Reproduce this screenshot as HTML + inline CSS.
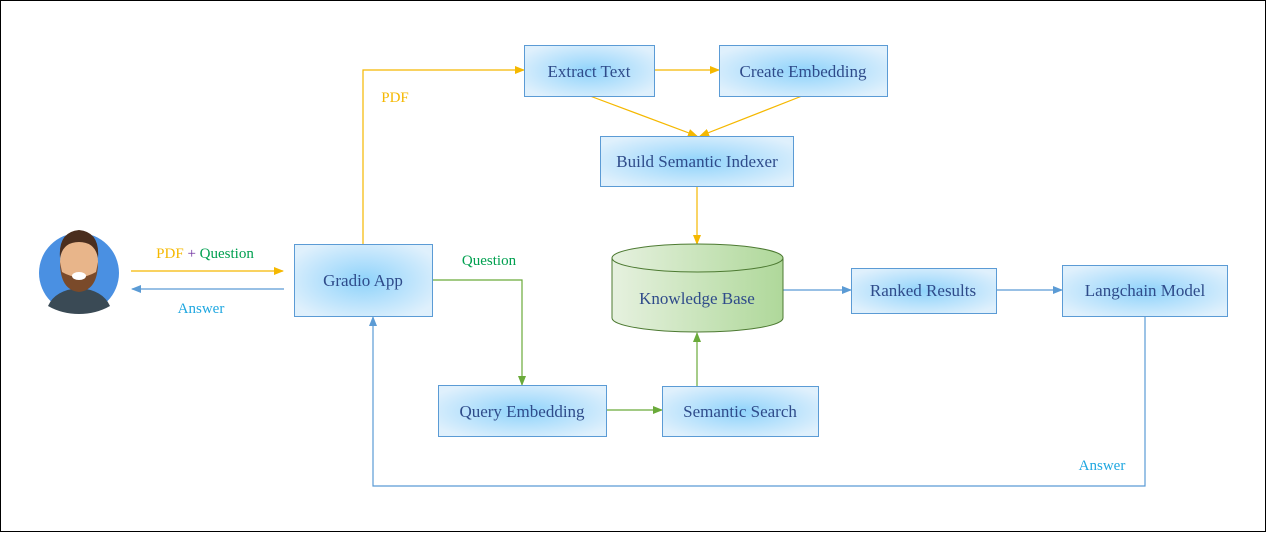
<!DOCTYPE html>
<html><head><style>
body{margin:0;width:1266px;height:532px;background:#fff;overflow:hidden}
</style></head><body>
<svg width="1266" height="532" xmlns="http://www.w3.org/2000/svg" font-family="'Liberation Serif', serif" style="font-family:'Liberation Serif',serif">
<defs>
<radialGradient id="bg" cx="50%" cy="50%" r="60%">
<stop offset="0" stop-color="#8fd3fb"/><stop offset="1" stop-color="#dff0fc"/></radialGradient>
<linearGradient id="cg" x1="0" x2="1"><stop offset="0" stop-color="#e6f1df"/><stop offset="1" stop-color="#afd89a"/></linearGradient>
<marker id="ay" markerWidth="10" markerHeight="8" refX="9" refY="4" orient="auto" markerUnits="userSpaceOnUse"><path d="M0,0L10,4L0,8z" fill="#f5b800"/></marker>
<marker id="ag" markerWidth="10" markerHeight="8" refX="9" refY="4" orient="auto" markerUnits="userSpaceOnUse"><path d="M0,0L10,4L0,8z" fill="#6aaa3a"/></marker>
<marker id="ab" markerWidth="10" markerHeight="8" refX="9" refY="4" orient="auto" markerUnits="userSpaceOnUse"><path d="M0,0L10,4L0,8z" fill="#5b9bd5"/></marker>
</defs>
<rect x="0.5" y="0.5" width="1265" height="531" fill="#fff" stroke="#000"/>
<!-- avatar -->
<circle cx="79" cy="273" r="40" fill="#4a90e2"/>
<path d="M48,306 Q55,290 79,288 Q103,290 110,306 Q96,314 79,314 Q62,314 48,306z" fill="#3a4a55"/>
<ellipse cx="79" cy="262" rx="19" ry="24" fill="#e8b58a"/>
<path d="M60,262 Q60,290 79,292 Q98,290 98,262 L96,272 Q79,282 62,272z" fill="#7a4a2a"/>
<path d="M60,258 Q58,232 79,230 Q100,232 98,258 Q95,242 79,242 Q63,242 60,258z" fill="#4a2e1e"/>
<ellipse cx="79" cy="276" rx="7" ry="4" fill="#fff"/>
<!-- lines -->
<g fill="none" stroke-width="1.2">
<line x1="131" y1="271" x2="283" y2="271" stroke="#f5b800" marker-end="url(#ay)"/>
<line x1="284" y1="289" x2="132" y2="289" stroke="#5b9bd5" marker-end="url(#ab)"/>
<polyline points="363,244 363,70 524,70" stroke="#f5b800" marker-end="url(#ay)"/>
<line x1="654" y1="70" x2="719" y2="70" stroke="#f5b800" marker-end="url(#ay)"/>
<line x1="590" y1="96" x2="697" y2="136" stroke="#f5b800" marker-end="url(#ay)"/>
<line x1="802" y1="96" x2="700" y2="136" stroke="#f5b800" marker-end="url(#ay)"/>
<line x1="697" y1="186" x2="697" y2="244" stroke="#f5b800" marker-end="url(#ay)"/>
<polyline points="432,280 522,280 522,385" stroke="#6aaa3a" marker-end="url(#ag)"/>
<line x1="606" y1="410" x2="662" y2="410" stroke="#6aaa3a" marker-end="url(#ag)"/>
<line x1="697" y1="386" x2="697" y2="333" stroke="#6aaa3a" marker-end="url(#ag)"/>
<line x1="783" y1="290" x2="851" y2="290" stroke="#5b9bd5" marker-end="url(#ab)"/>
<line x1="996" y1="290" x2="1062" y2="290" stroke="#5b9bd5" marker-end="url(#ab)"/>
<polyline points="1145,316 1145,486 373,486 373,317" stroke="#5b9bd5" marker-end="url(#ab)"/>
</g>
<!-- boxes -->
<g stroke="#5b9bd5" fill="url(#bg)">
<rect x="294.5" y="244.5" width="138" height="72"/>
<rect x="524.5" y="45.5" width="130" height="51"/>
<rect x="719.5" y="45.5" width="168" height="51"/>
<rect x="600.5" y="136.5" width="193" height="50"/>
<rect x="851.5" y="268.5" width="145" height="45"/>
<rect x="1062.5" y="265.5" width="165" height="51"/>
<rect x="438.5" y="385.5" width="168" height="51"/>
<rect x="662.5" y="386.5" width="156" height="50"/>
</g>
<path d="M612,258 L612,318 A85.5,14 0 0 0 783,318 L783,258" fill="url(#cg)" stroke="#4d7a32"/>
<ellipse cx="697.5" cy="258" rx="85.5" ry="14" fill="url(#cg)" stroke="#4d7a32"/>
<g fill="#2f4b8a" font-size="17" text-anchor="middle" font-family="'Liberation Serif', serif">
<text x="363" y="286">Gradio App</text>
<text x="589" y="77">Extract Text</text>
<text x="803" y="77">Create Embedding</text>
<text x="697" y="167">Build Semantic Indexer</text>
<text x="697" y="304">Knowledge Base</text>
<text x="923" y="296">Ranked Results</text>
<text x="1145" y="296">Langchain Model</text>
<text x="522" y="417">Query Embedding</text>
<text x="740" y="417">Semantic Search</text>
</g>
<g font-size="15" text-anchor="middle" font-family="'Liberation Serif', serif">
<text x="205" y="258"><tspan fill="#f5b800">PDF</tspan><tspan fill="#7030a0"> + </tspan><tspan fill="#00a050">Question</tspan></text>
<text x="201" y="313" fill="#1fa7e0">Answer</text>
<text x="395" y="102" fill="#f5b800">PDF</text>
<text x="489" y="265" fill="#00a050">Question</text>
<text x="1102" y="470" fill="#1fa7e0">Answer</text>
</g>
</svg>
</body></html>
